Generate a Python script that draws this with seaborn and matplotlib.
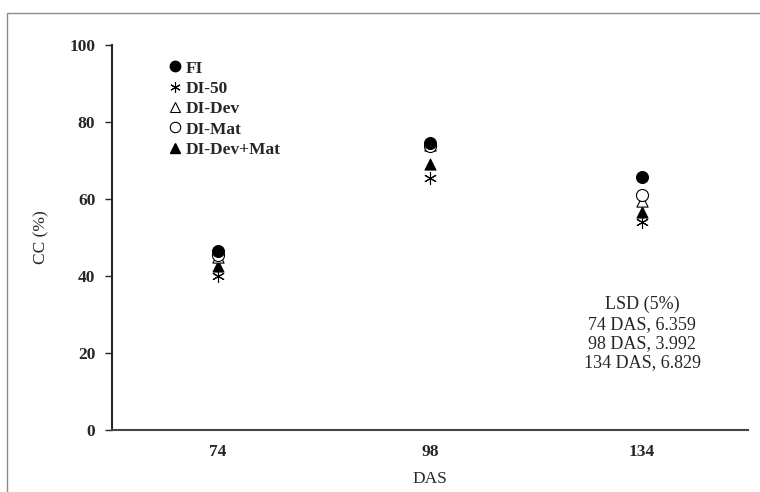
import matplotlib
matplotlib.use("Agg")
import matplotlib.pyplot as plt
from matplotlib.patches import Rectangle
from matplotlib.lines import Line2D
import seaborn as sns
import pandas as pd

# data
das = ["74", "98", "134"]
fi = [46.5, 74.5, 65.8]
di_50 = [40.0, 65.5, 54.0]
di_dev = [45.0, 74.0, 59.5]
di_mat = [45.5, 73.8, 61.0]
di_dev_mat = [42.5, 69.2, 56.5]
lsd_lines = ["LSD (5%)", "74 DAS, 6.359", "98 DAS, 3.992", "134 DAS, 6.829"]

series = {"FI": fi, "DI-50": di_50, "DI-Dev": di_dev, "DI-Mat": di_mat, "DI-Dev+Mat": di_dev_mat}
styles = {
    "FI": dict(marker="o", facecolor="black", edgecolor="black", s=75),
    "DI-50": dict(marker=(6, 2, 0), facecolor="black", edgecolor="black", s=75, linewidth=0.8),
    "DI-Dev": dict(marker="^", facecolor="white", edgecolor="black", s=65, linewidth=0.8),
    "DI-Mat": dict(marker="o", facecolor="white", edgecolor="black", s=75, linewidth=0.8),
    "DI-Dev+Mat": dict(marker="^", facecolor="black", edgecolor="black", s=65),
}

rows = []
for name, vals in series.items():
    for i, v in enumerate(vals):
        rows.append({"series": name, "pos": i, "cc": v})
df = pd.DataFrame(rows)

sns.set_style("white")
plt.rcParams["font.family"] = ["Liberation Serif", "DejaVu Serif"]

fig = plt.figure(figsize=(7.6, 4.92), dpi=100)
ax = fig.add_axes([112 / 760, 1 - 430 / 492, (748 - 112) / 760, (430 - 45) / 492])

# outer chart frame
fig.patches.append(Rectangle((7 / 760, -0.1), 1.2, 1 - 13 / 492 + 0.1, transform=fig.transFigure,
                             fill=False, edgecolor="#8a8a8a", linewidth=1.0))

draw_order = ["DI-50", "DI-Dev+Mat", "DI-Dev", "DI-Mat", "FI"]
for name in draw_order:
    sub = df[df["series"] == name]
    sns.scatterplot(data=sub, x="pos", y="cc", ax=ax, legend=False, zorder=3, **styles[name])

ax.set_xlim(-0.5, 2.5)
ax.set_ylim(0, 100)
ax.set_yticks(range(0, 101, 20))
ax.set_yticklabels([str(t) for t in range(0, 101, 20)], fontsize=12.5, fontweight="bold")
ax.set_xticks(range(len(das)))
ax.set_xticklabels(das, fontsize=12.5, fontweight="bold")
ax.tick_params(axis="x", length=0, pad=10)
ax.tick_params(axis="y", length=5, width=1, direction="out", left=True, pad=7)

for side in ["top", "right"]:
    ax.spines[side].set_visible(False)
ax.spines["left"].set_linewidth(1.5)
ax.spines["bottom"].set_linewidth(1.5)
ax.spines["bottom"].set_color("#444444")

ax.set_xlabel("DAS", fontsize=12.5, labelpad=8)
ax.set_ylabel("CC (%)", fontsize=12.5, labelpad=14)

handles = []
for name in series:
    st = styles[name]
    handles.append(Line2D([], [], linestyle="none", marker=st["marker"], markersize=7.5,
                          markerfacecolor=st["facecolor"], markeredgecolor=st["edgecolor"],
                          markeredgewidth=st.get("linewidth", 1.0), label=name))
ax.legend(handles=handles, loc="upper left", bbox_to_anchor=(0.074, 0.978), frameon=False,
          prop={"weight": "bold", "size": 12.5}, handletextpad=0.15, labelspacing=0.24,
          handlelength=1.0, borderaxespad=0)

ax.text(2, 25, "\n".join(lsd_lines), ha="center", va="center", fontsize=13, linespacing=1.18)

fig.savefig("out.png", dpi=100)
